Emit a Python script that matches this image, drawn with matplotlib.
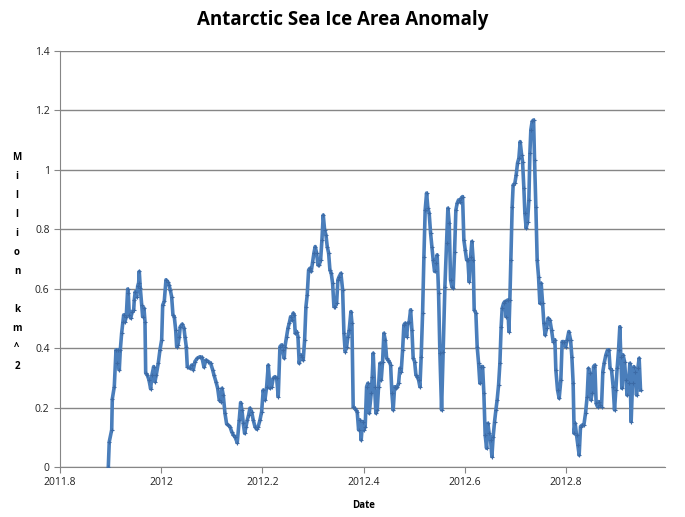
import matplotlib
matplotlib.use("Agg")
import matplotlib.pyplot as plt

# Antarctic sea ice area anomaly (million km^2)
year = [
    2011.8955, 2011.8974, 2011.9022, 2011.9034, 2011.9073, 2011.9107, 2011.9132, 2011.9152, 2011.9172, 2011.9192,
    2011.9219, 2011.9245, 2011.9259, 2011.9285, 2011.9310, 2011.9338, 2011.9350, 2011.9370, 2011.9397, 2011.9429,
    2011.9457, 2011.9468, 2011.9488, 2011.9516, 2011.9536, 2011.9555, 2011.9567, 2011.9587, 2011.9615, 2011.9634,
    2011.9660, 2011.9680, 2011.9694, 2011.9725, 2011.9759, 2011.9792, 2011.9818, 2011.9852, 2011.9877, 2011.9903,
    2011.9943, 2011.9976, 2012.0010, 2012.0030, 2012.0061, 2012.0095, 2012.0128, 2012.0154, 2012.0180, 2012.0207,
    2012.0233, 2012.0259, 2012.0287, 2012.0306, 2012.0332, 2012.0358, 2012.0377, 2012.0417, 2012.0451, 2012.0470,
    2012.0496, 2012.0516, 2012.0569, 2012.0603, 2012.0634, 2012.0668, 2012.0713, 2012.0767, 2012.0806, 2012.0846,
    2012.0885, 2012.0931, 2012.0978, 2012.1018, 2012.1043, 2012.1083, 2012.1117, 2012.1148, 2012.1176, 2012.1202,
    2012.1227, 2012.1261, 2012.1294, 2012.1326, 2012.1360, 2012.1393, 2012.1425, 2012.1458, 2012.1504, 2012.1543,
    2012.1571, 2012.1597, 2012.1623, 2012.1650, 2012.1676, 2012.1702, 2012.1729, 2012.1755, 2012.1789, 2012.1820,
    2012.1854, 2012.1887, 2012.1919, 2012.1953, 2012.1986, 2012.2018, 2012.2051, 2012.2085, 2012.2117, 2012.2150,
    2012.2184, 2012.2215, 2012.2249, 2012.2283, 2012.2314, 2012.2348, 2012.2381, 2012.2401, 2012.2433, 2012.2447,
    2012.2480, 2012.2506, 2012.2532, 2012.2559, 2012.2585, 2012.2611, 2012.2630, 2012.2650, 2012.2678, 2012.2704,
    2012.2729, 2012.2757, 2012.2783, 2012.2808, 2012.2836, 2012.2862, 2012.2887, 2012.2915, 2012.2941, 2012.2966,
    2012.2994, 2012.3020, 2012.3045, 2012.3073, 2012.3099, 2012.3125, 2012.3152, 2012.3178, 2012.3204, 2012.3231,
    2012.3257, 2012.3283, 2012.3310, 2012.3336, 2012.3362, 2012.3389, 2012.3415, 2012.3441, 2012.3468, 2012.3494,
    2012.3520, 2012.3553, 2012.3587, 2012.3613, 2012.3638, 2012.3666, 2012.3692, 2012.3717, 2012.3751, 2012.3771,
    2012.3796, 2012.3824, 2012.3850, 2012.3875, 2012.3903, 2012.3929, 2012.3954, 2012.3982, 2012.4008, 2012.4033,
    2012.4061, 2012.4087, 2012.4113, 2012.4152, 2012.4172, 2012.4192, 2012.4219, 2012.4245, 2012.4271, 2012.4298,
    2012.4324, 2012.4350, 2012.4377, 2012.4403, 2012.4429, 2012.4457, 2012.4482, 2012.4508, 2012.4536, 2012.4561,
    2012.4587, 2012.4615, 2012.4640, 2012.4666, 2012.4694, 2012.4719, 2012.4745, 2012.4773, 2012.4798, 2012.4824,
    2012.4852, 2012.4877, 2012.4903, 2012.4931, 2012.4957, 2012.4982, 2012.5010, 2012.5036, 2012.5061, 2012.5089,
    2012.5115, 2012.5140, 2012.5168, 2012.5194, 2012.5219, 2012.5247, 2012.5273, 2012.5298, 2012.5326, 2012.5352,
    2012.5377, 2012.5405, 2012.5431, 2012.5456, 2012.5484, 2012.5510, 2012.5543, 2012.5575, 2012.5609, 2012.5642,
    2012.5668, 2012.5694, 2012.5721, 2012.5747, 2012.5773, 2012.5800, 2012.5826, 2012.5852, 2012.5879, 2012.5905,
    2012.5931, 2012.5958, 2012.5984, 2012.6010, 2012.6038, 2012.6063, 2012.6089, 2012.6117, 2012.6142, 2012.6168,
    2012.6188, 2012.6221, 2012.6247, 2012.6275, 2012.6300, 2012.6326, 2012.6354, 2012.6379, 2012.6405, 2012.6433,
    2012.6458, 2012.6484, 2012.6512, 2012.6538, 2012.6563, 2012.6591, 2012.6617, 2012.6642, 2012.6670, 2012.6696,
    2012.6721, 2012.6741, 2012.6769, 2012.6794, 2012.6820, 2012.6848, 2012.6874, 2012.6893, 2012.6913, 2012.6939,
    2012.6958, 2012.6992, 2012.7018, 2012.7045, 2012.7071, 2012.7097, 2012.7125, 2012.7144, 2012.7170, 2012.7190,
    2012.7215, 2012.7243, 2012.7269, 2012.7289, 2012.7308, 2012.7334, 2012.7362, 2012.7381, 2012.7407, 2012.7433,
    2012.7460, 2012.7486, 2012.7512, 2012.7540, 2012.7565, 2012.7591, 2012.7619, 2012.7650, 2012.7684, 2012.7717,
    2012.7749, 2012.7783, 2012.7802, 2012.7836, 2012.7868, 2012.7901, 2012.7927, 2012.7960, 2012.7994, 2012.8026,
    2012.8059, 2012.8093, 2012.8119, 2012.8144, 2012.8164, 2012.8184, 2012.8211, 2012.8237, 2012.8263, 2012.8290,
    2012.8322, 2012.8356, 2012.8389, 2012.8421, 2012.8447, 2012.8474, 2012.8494, 2012.8520, 2012.8547, 2012.8573,
    2012.8599, 2012.8626, 2012.8652, 2012.8678, 2012.8705, 2012.8731, 2012.8757, 2012.8791, 2012.8824, 2012.8850,
    2012.8875, 2012.8903, 2012.8935, 2012.8962, 2012.8988, 2012.9014, 2012.9042, 2012.9067, 2012.9087, 2012.9107,
    2012.9132, 2012.9160, 2012.9186, 2012.9211, 2012.9239, 2012.9265, 2012.9291, 2012.9318, 2012.9344, 2012.9370,
    2012.9397, 2012.9423, 2012.9449, 2012.9476,
]
anomaly = [
    0.000, 0.085, 0.125, 0.229, 0.270, 0.394, 0.350, 0.394, 0.327, 0.394,
    0.451, 0.489, 0.512, 0.489, 0.506, 0.599, 0.586, 0.512, 0.501, 0.523,
    0.529, 0.562, 0.590, 0.573, 0.609, 0.620, 0.658, 0.603, 0.545, 0.506,
    0.535, 0.489, 0.316, 0.310, 0.293, 0.263, 0.310, 0.338, 0.287, 0.310,
    0.350, 0.394, 0.428, 0.545, 0.557, 0.630, 0.624, 0.613, 0.596, 0.573,
    0.512, 0.506, 0.461, 0.405, 0.411, 0.439, 0.472, 0.481, 0.467, 0.439,
    0.405, 0.338, 0.332, 0.343, 0.327, 0.355, 0.366, 0.371, 0.369, 0.336,
    0.360, 0.355, 0.349, 0.327, 0.310, 0.287, 0.265, 0.226, 0.220, 0.265,
    0.242, 0.181, 0.145, 0.141, 0.136, 0.119, 0.108, 0.102, 0.082, 0.158,
    0.217, 0.192, 0.147, 0.113, 0.136, 0.158, 0.175, 0.198, 0.186, 0.158,
    0.136, 0.127, 0.136, 0.158, 0.186, 0.259, 0.226, 0.270, 0.343, 0.265,
    0.270, 0.299, 0.304, 0.299, 0.237, 0.405, 0.411, 0.394, 0.366, 0.405,
    0.439, 0.467, 0.484, 0.506, 0.495, 0.518, 0.512, 0.450, 0.456, 0.439,
    0.349, 0.377, 0.371, 0.360, 0.428, 0.540, 0.579, 0.663, 0.669, 0.658,
    0.691, 0.720, 0.742, 0.720, 0.680, 0.680, 0.697, 0.764, 0.848, 0.798,
    0.781, 0.742, 0.720, 0.663, 0.652, 0.618, 0.540, 0.540, 0.551, 0.630,
    0.641, 0.652, 0.596, 0.450, 0.388, 0.405, 0.439, 0.461, 0.523, 0.484,
    0.203, 0.198, 0.192, 0.186, 0.125, 0.158, 0.091, 0.153, 0.125, 0.136,
    0.270, 0.282, 0.181, 0.248, 0.304, 0.383, 0.270, 0.181, 0.192, 0.270,
    0.349, 0.293, 0.355, 0.450, 0.428, 0.366, 0.360, 0.355, 0.343, 0.248,
    0.192, 0.270, 0.265, 0.270, 0.282, 0.332, 0.321, 0.394, 0.478, 0.484,
    0.439, 0.484, 0.489, 0.529, 0.461, 0.366, 0.355, 0.310, 0.304, 0.293,
    0.270, 0.371, 0.518, 0.708, 0.865, 0.922, 0.871, 0.854, 0.787, 0.742,
    0.697, 0.658, 0.686, 0.714, 0.585, 0.383, 0.192, 0.388, 0.607, 0.753,
    0.871, 0.821, 0.630, 0.607, 0.602, 0.725, 0.865, 0.888, 0.899, 0.893,
    0.905, 0.910, 0.764, 0.731, 0.697, 0.697, 0.624, 0.708, 0.759, 0.697,
    0.529, 0.518, 0.405, 0.349, 0.282, 0.338, 0.338, 0.248, 0.108, 0.063,
    0.147, 0.113, 0.091, 0.035, 0.102, 0.153, 0.192, 0.226, 0.276, 0.349,
    0.472, 0.534, 0.551, 0.557, 0.506, 0.562, 0.456, 0.562, 0.697, 0.876,
    0.949, 0.955, 0.983, 1.023, 1.039, 1.095, 1.051, 1.028, 0.938, 0.854,
    0.804, 0.826, 0.899, 1.056, 1.135, 1.163, 1.168, 1.034, 0.876, 0.697,
    0.641, 0.551, 0.618, 0.551, 0.484, 0.444, 0.467, 0.501, 0.495, 0.461,
    0.422, 0.428, 0.327, 0.259, 0.231, 0.293, 0.422, 0.422, 0.405, 0.428,
    0.456, 0.428, 0.371, 0.282, 0.113, 0.147, 0.108, 0.074, 0.040, 0.136,
    0.141, 0.141, 0.181, 0.237, 0.332, 0.315, 0.226, 0.248, 0.338, 0.343,
    0.214, 0.203, 0.220, 0.209, 0.203, 0.321, 0.349, 0.377, 0.394, 0.394,
    0.332, 0.327, 0.270, 0.192, 0.259, 0.332, 0.394, 0.472, 0.371, 0.265,
    0.377, 0.355, 0.293, 0.242, 0.282, 0.349, 0.153, 0.282, 0.338, 0.321,
    0.242, 0.332, 0.366, 0.259,
]

xticks = [2011.8, 2012.0, 2012.2, 2012.4, 2012.6, 2012.8]
xtick_labels = ["2011.8", "2012", "2012.2", "2012.4", "2012.6", "2012.8"]
yticks = [0, 0.2, 0.4, 0.6, 0.8, 1.0, 1.2, 1.4]
ytick_labels = ["0", "0.2", "0.4", "0.6", "0.8", "1", "1.2", "1.4"]

plt.rcParams["font.family"] = ["Open Sans", "DejaVu Sans"]

fig = plt.figure(figsize=(6.85, 5.17), dpi=100)
ax = fig.add_axes([60 / 685, 1 - 467 / 517, 605 / 685, 416 / 517])

ax.plot(year, anomaly, color="#4A7EBB", linewidth=2.6, marker="+",
        markersize=3, markeredgewidth=0.8, markeredgecolor="#3C6AA5", zorder=3)

ax.set_xlim(2011.8, 2012.996)
ax.set_ylim(0, 1.4)
ax.set_xticks(xticks)
ax.set_xticklabels(xtick_labels)
ax.set_yticks(yticks)
ax.set_yticklabels(ytick_labels)
ax.yaxis.grid(True, color="#868686", linewidth=1)
ax.set_axisbelow(True)
for side in ["top", "right"]:
    ax.spines[side].set_visible(False)
for side in ["left", "bottom"]:
    ax.spines[side].set_color("#868686")
ax.tick_params(colors="#868686", labelcolor="#222222", labelsize=7.5, length=4)

fig.text(0.5, 1 - 20 / 517, "Antarctic Sea Ice Area Anomaly", ha="center", va="center",
         fontsize=13.5, fontweight="bold")
fig.text(364 / 685, 1 - 505 / 517, "Date", ha="center", va="center", fontsize=7, fontweight="bold")
fig.text(17 / 685, 1 - 262 / 517, "\n".join("Million km^2"), ha="center", va="center",
         fontsize=7, fontweight="bold", linespacing=2.0)

fig.savefig("out.png", dpi=100)
